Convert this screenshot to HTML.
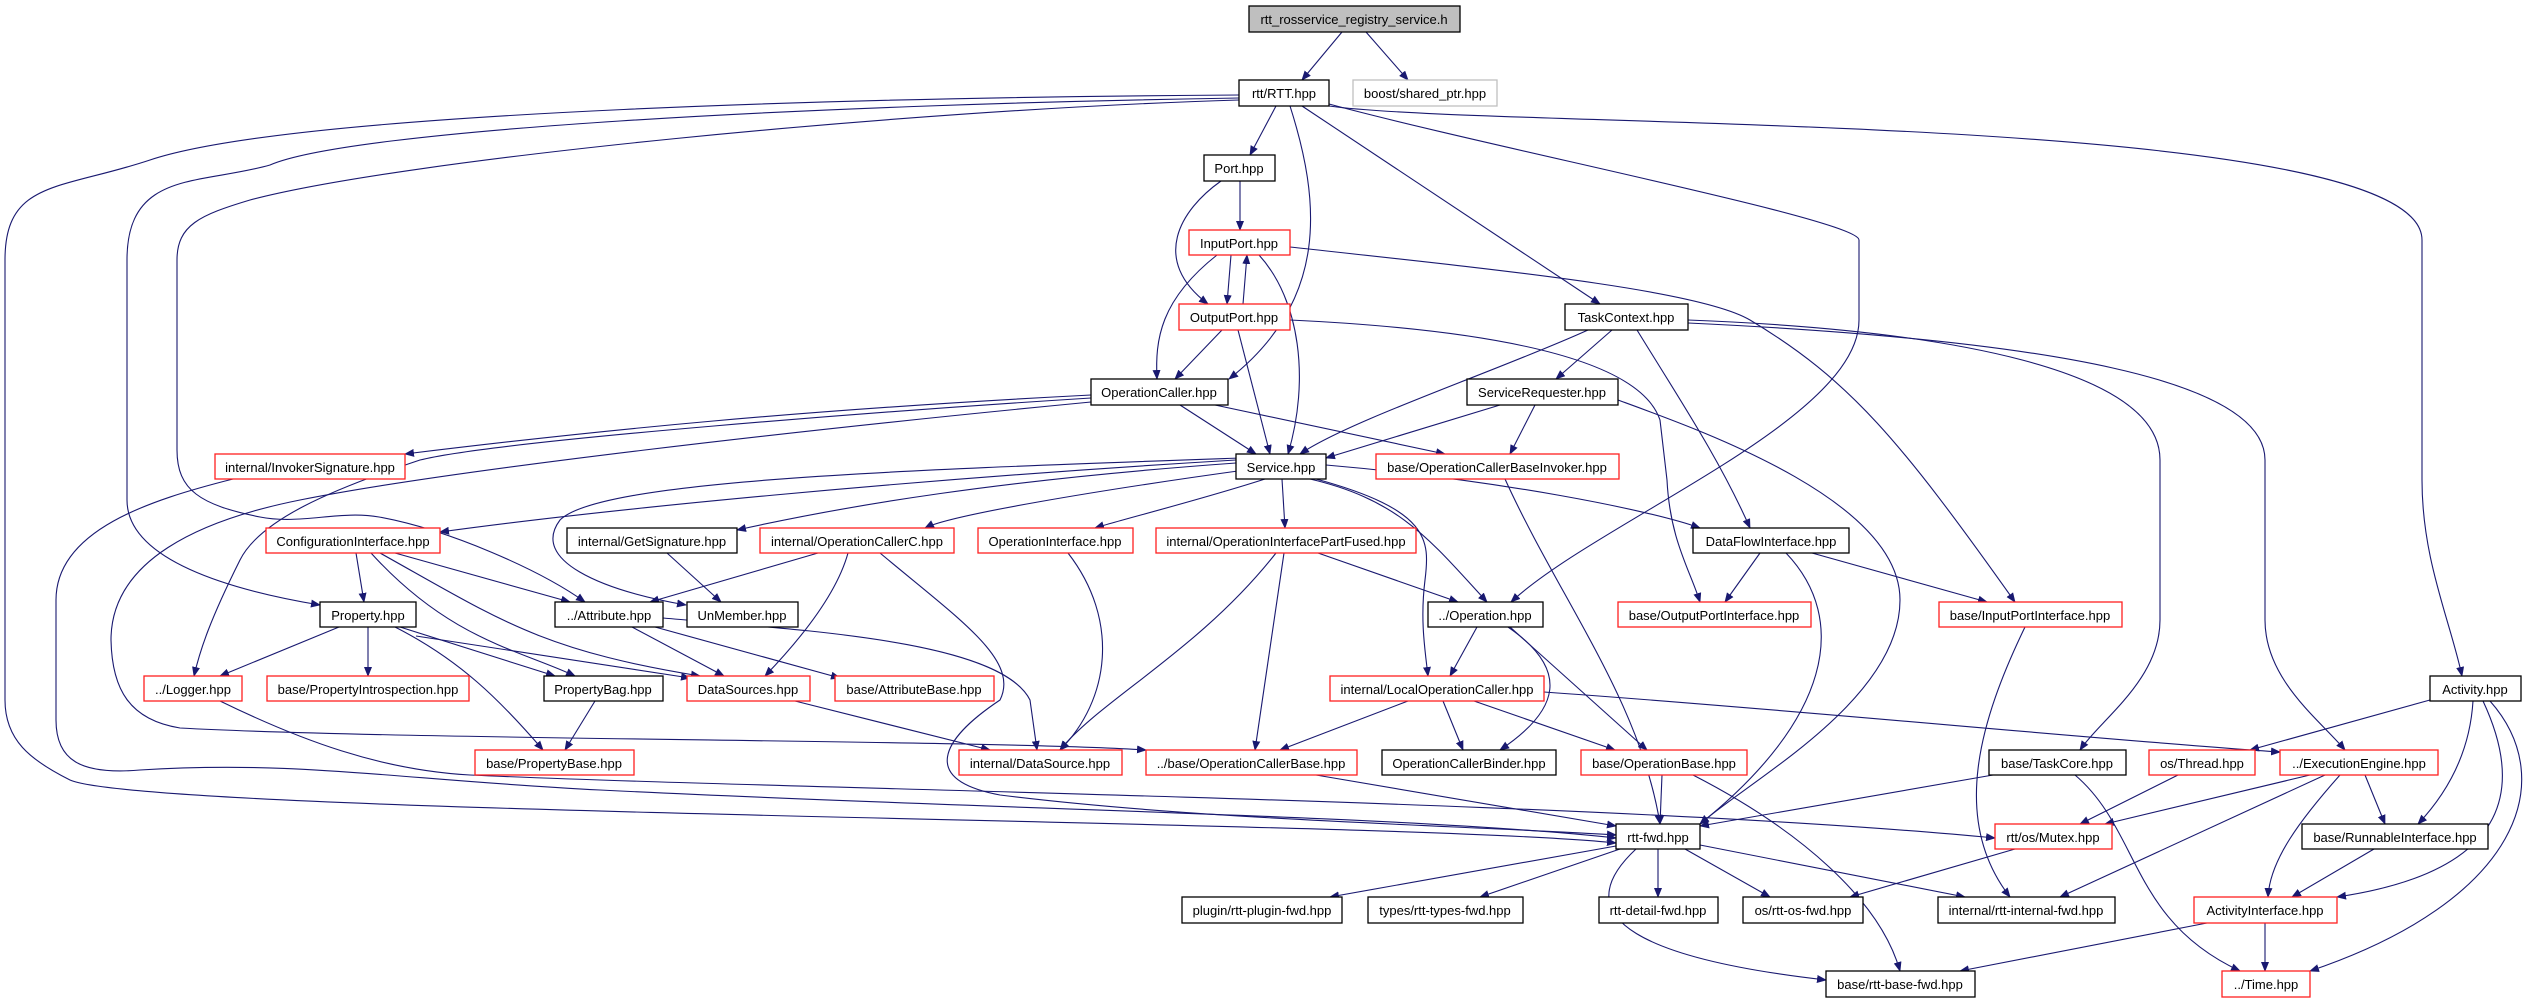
<!DOCTYPE html>
<html><head><meta charset="utf-8"><style>
html,body{margin:0;padding:0;background:#fff;}
svg{display:block;}
text{font-family:"Liberation Sans",Arial,sans-serif;font-size:13px;text-anchor:middle;fill:#000;}
.n{fill:#fff;stroke:#000;stroke-width:1.3;}
.r{fill:#fff;stroke:#ff2020;stroke-width:1.3;}
.e{fill:none;stroke:#191970;stroke-width:1.1;}
</style></head><body>
<svg width="2536" height="1008" viewBox="0 0 2536 1008" xmlns="http://www.w3.org/2000/svg">
<defs><marker id="a" markerWidth="10" markerHeight="8" refX="9" refY="4" orient="auto" markerUnits="userSpaceOnUse"><path d="M0,0 L10,4 L0,8 z" fill="#191970"/></marker></defs>
<g class="e" marker-end="url(#a)">
<path d="M1342,32 L1302,80"/>
<path d="M1366,32 L1408,80"/>
<path d="M1276,106 L1250,155"/>
<path d="M1290,106 C1320,200 1330,300 1229,379"/>
<path d="M1302,106 L1600,304"/>
<path d="M1329,104 C1500,150 1859,220 1859,240 L1859,320 C1859,420 1600,520 1511,602"/>
<path d="M1329,106 C1500,130 2422,110 2422,240 L2422,480 C2422,560 2450,620 2462,676"/>
<path d="M1239,95 C900,97 300,110 150,160 C60,190 5,180 5,260 L5,700 C5,740 30,760 70,780 C150,815 1400,820 1616,843"/>
<path d="M1239,98 C800,105 350,130 270,165 C200,185 127,170 127,260 L127,500 C127,560 230,590 320,605"/>
<path d="M1239,100 C900,110 400,160 250,200 C200,215 177,225 177,260 L177,450 C177,490 200,505 260,517 C300,525 340,510 379,517 C450,530 540,570 585,602"/>
<path d="M1240,181 L1240,230"/>
<path d="M1221,181 C1180,210 1150,260 1208,304"/>
<path d="M1231,255 L1227,304"/>
<path d="M1243,304 L1247,255"/>
<path d="M1217,255 C1160,300 1155,340 1157,379"/>
<path d="M1259,255 C1300,300 1310,380 1288,454"/>
<path d="M1290,247 C1500,270 1700,290 1750,320 C1850,380 1900,440 2015,602"/>
<path d="M1222,330 L1175,379"/>
<path d="M1238,330 L1270,454"/>
<path d="M1290,320 C1500,330 1640,360 1660,420 L1667,480 C1670,540 1690,570 1700,602"/>
<path d="M1588,330 C1500,370 1350,420 1300,454"/>
<path d="M1612,330 L1556,379"/>
<path d="M1637,330 C1680,400 1720,460 1750,528"/>
<path d="M1688,320 C1950,330 2160,370 2160,460 L2160,620 C2160,680 2100,720 2080,750"/>
<path d="M1688,323 C2050,340 2265,380 2265,460 L2265,620 C2265,680 2320,720 2345,750"/>
<path d="M1180,405 L1256,454"/>
<path d="M1215,405 L1445,454"/>
<path d="M1091,395 C800,410 600,430 405,454"/>
<path d="M1091,398 C900,410 500,440 420,460 C330,490 260,520 240,560 C210,620 200,650 194,676"/>
<path d="M1091,402 C800,430 450,470 300,500 C200,520 111,560 111,640 C112,690 130,720 180,728 C400,740 1000,740 1146,750"/>
<path d="M233,479 C150,500 56,530 56,600 L56,720 C56,760 80,775 140,770 C300,760 400,780 600,790 C1000,810 1400,815 1616,838"/>
<path d="M1236,460 C900,480 600,510 440,532"/>
<path d="M1236,463 C1000,480 850,505 737,530"/>
<path d="M1240,458 C900,470 600,480 560,520 C530,560 600,590 686,605"/>
<path d="M1245,470 C1100,490 950,515 925,528"/>
<path d="M1265,479 C1200,500 1120,520 1095,528"/>
<path d="M1282,479 L1285,528"/>
<path d="M1310,479 C1400,500 1430,540 1487,602"/>
<path d="M1316,479 C1430,510 1430,540 1425,580 C1420,620 1425,650 1428,676"/>
<path d="M1326,465 C1500,480 1650,510 1700,528"/>
<path d="M663,618 C800,630 1000,640 1030,700 L1037,750"/>
<path d="M356,553 L364,602"/>
<path d="M395,553 L570,602"/>
<path d="M371,553 C450,640 520,650 575,676"/>
<path d="M380,553 C500,620 540,650 700,676"/>
<path d="M667,553 L721,602"/>
<path d="M818,553 L650,602"/>
<path d="M848,553 C835,600 790,650 765,676"/>
<path d="M880,553 C960,620 1020,660 1000,700 C940,740 920,780 1000,795 C1200,820 1450,825 1616,835"/>
<path d="M1068,553 C1120,620 1110,700 1060,750"/>
<path d="M1276,553 C1200,650 1100,700 1060,750"/>
<path d="M1284,553 L1255,750"/>
<path d="M1318,553 L1458,602"/>
<path d="M1760,553 L1725,602"/>
<path d="M1812,553 L1987,602"/>
<path d="M1786,553 C1850,620 1830,720 1700,824"/>
<path d="M1500,405 L1326,458"/>
<path d="M1535,405 L1510,454"/>
<path d="M1618,400 C1700,430 1900,500 1900,600 C1900,700 1750,780 1700,824"/>
<path d="M1505,479 C1560,600 1640,700 1660,824"/>
<path d="M339,627 L220,676"/>
<path d="M368,627 L368,676"/>
<path d="M400,627 L555,676"/>
<path d="M416,636 L690,678"/>
<path d="M395,627 C460,660 500,700 543,750"/>
<path d="M632,627 L724,676"/>
<path d="M655,627 L840,678"/>
<path d="M595,701 L565,750"/>
<path d="M795,701 L990,750"/>
<path d="M1477,627 L1450,676"/>
<path d="M1508,627 C1570,670 1560,710 1500,750"/>
<path d="M1510,627 L1647,750"/>
<path d="M1408,701 L1280,750"/>
<path d="M1443,701 L1463,750"/>
<path d="M1474,701 L1615,750"/>
<path d="M1544,692 C1800,710 2100,740 2280,752"/>
<path d="M1316,775 L1616,826"/>
<path d="M1662,775 L1660,824"/>
<path d="M1693,775 C1800,830 1880,900 1900,971"/>
<path d="M2025,627 C1980,720 1950,820 2010,897"/>
<path d="M1993,775 L1700,826"/>
<path d="M2075,775 C2140,830 2130,920 2240,971"/>
<path d="M2178,775 L2080,824"/>
<path d="M2310,775 L2105,824"/>
<path d="M2325,775 L2060,897"/>
<path d="M2340,775 C2300,820 2270,860 2268,897"/>
<path d="M2365,775 L2385,824"/>
<path d="M2430,700 L2250,750"/>
<path d="M2473,701 C2470,750 2450,790 2418,824"/>
<path d="M2483,701 C2520,780 2520,870 2337,897"/>
<path d="M2490,701 C2560,780 2520,900 2310,971"/>
<path d="M2374,849 L2292,897"/>
<path d="M2207,923 L1960,971"/>
<path d="M2265,923 L2265,971"/>
<path d="M1616,846 L1330,897"/>
<path d="M1620,849 L1480,897"/>
<path d="M1658,849 L1658,897"/>
<path d="M1685,849 L1770,897"/>
<path d="M1700,845 L1965,897"/>
<path d="M1636,849 C1560,920 1650,960 1826,980"/>
<path d="M2015,849 L1850,897"/>
<path d="M220,701 C300,740 380,770 470,775 C800,790 1600,800 1995,838"/>
</g>
<g>
<rect x="1249" y="6" width="211" height="26" fill="#bfbfbf" stroke="#000" stroke-width="1.3"/><text x="1354" y="24">rtt_rosservice_registry_service.h</text>
<rect class="n" x="1239" y="80" width="90" height="26"/><text x="1284" y="98">rtt/RTT.hpp</text>
<rect x="1353" y="80" width="144" height="26" fill="#fff" stroke="#bfbfbf" stroke-width="1.3"/><text x="1425" y="98">boost/shared_ptr.hpp</text>
<rect class="n" x="1204" y="155" width="71" height="26"/><text x="1239" y="173">Port.hpp</text>
<rect class="r" x="1189" y="230" width="101" height="25"/><text x="1239" y="248">InputPort.hpp</text>
<rect class="r" x="1179" y="304" width="111" height="26"/><text x="1234" y="322">OutputPort.hpp</text>
<rect class="n" x="1565" y="304" width="123" height="26"/><text x="1626" y="322">TaskContext.hpp</text>
<rect class="n" x="1091" y="379" width="137" height="26"/><text x="1159" y="397">OperationCaller.hpp</text>
<rect class="n" x="1467" y="379" width="151" height="26"/><text x="1542" y="397">ServiceRequester.hpp</text>
<rect class="n" x="1236" y="454" width="90" height="25"/><text x="1281" y="472">Service.hpp</text>
<rect class="r" x="1376" y="454" width="243" height="25"/><text x="1497" y="472">base/OperationCallerBaseInvoker.hpp</text>
<rect class="r" x="215" y="454" width="190" height="25"/><text x="310" y="472">internal/InvokerSignature.hpp</text>
<rect class="r" x="266" y="528" width="174" height="25"/><text x="353" y="546">ConfigurationInterface.hpp</text>
<rect class="n" x="567" y="528" width="170" height="25"/><text x="652" y="546">internal/GetSignature.hpp</text>
<rect class="r" x="760" y="528" width="194" height="25"/><text x="857" y="546">internal/OperationCallerC.hpp</text>
<rect class="r" x="978" y="528" width="155" height="25"/><text x="1055" y="546">OperationInterface.hpp</text>
<rect class="r" x="1156" y="528" width="260" height="25"/><text x="1286" y="546">internal/OperationInterfacePartFused.hpp</text>
<rect class="n" x="1693" y="528" width="156" height="25"/><text x="1771" y="546">DataFlowInterface.hpp</text>
<rect class="n" x="320" y="602" width="96" height="25"/><text x="368" y="620">Property.hpp</text>
<rect class="n" x="555" y="602" width="108" height="25"/><text x="609" y="620">../Attribute.hpp</text>
<rect class="n" x="687" y="602" width="111" height="25"/><text x="742" y="620">UnMember.hpp</text>
<rect class="n" x="1428" y="602" width="115" height="25"/><text x="1485" y="620">../Operation.hpp</text>
<rect class="r" x="1618" y="602" width="193" height="25"/><text x="1714" y="620">base/OutputPortInterface.hpp</text>
<rect class="r" x="1939" y="602" width="183" height="25"/><text x="2030" y="620">base/InputPortInterface.hpp</text>
<rect class="r" x="144" y="676" width="98" height="25"/><text x="193" y="694">../Logger.hpp</text>
<rect class="r" x="267" y="676" width="202" height="25"/><text x="368" y="694">base/PropertyIntrospection.hpp</text>
<rect class="n" x="544" y="676" width="119" height="25"/><text x="603" y="694">PropertyBag.hpp</text>
<rect class="r" x="687" y="676" width="123" height="25"/><text x="748" y="694">DataSources.hpp</text>
<rect class="r" x="835" y="676" width="159" height="25"/><text x="914" y="694">base/AttributeBase.hpp</text>
<rect class="r" x="1330" y="676" width="214" height="25"/><text x="1437" y="694">internal/LocalOperationCaller.hpp</text>
<rect class="n" x="2430" y="676" width="91" height="25"/><text x="2475" y="694">Activity.hpp</text>
<rect class="r" x="475" y="750" width="159" height="25"/><text x="554" y="768">base/PropertyBase.hpp</text>
<rect class="r" x="959" y="750" width="163" height="25"/><text x="1040" y="768">internal/DataSource.hpp</text>
<rect class="r" x="1146" y="750" width="211" height="25"/><text x="1251" y="768">../base/OperationCallerBase.hpp</text>
<rect class="n" x="1382" y="750" width="174" height="25"/><text x="1469" y="768">OperationCallerBinder.hpp</text>
<rect class="r" x="1581" y="750" width="166" height="25"/><text x="1664" y="768">base/OperationBase.hpp</text>
<rect class="n" x="1989" y="750" width="137" height="25"/><text x="2057" y="768">base/TaskCore.hpp</text>
<rect class="r" x="2149" y="750" width="106" height="25"/><text x="2202" y="768">os/Thread.hpp</text>
<rect class="r" x="2280" y="750" width="158" height="25"/><text x="2359" y="768">../ExecutionEngine.hpp</text>
<rect class="n" x="1616" y="824" width="84" height="25"/><text x="1658" y="842">rtt-fwd.hpp</text>
<rect class="r" x="1995" y="824" width="117" height="25"/><text x="2053" y="842">rtt/os/Mutex.hpp</text>
<rect class="n" x="2302" y="824" width="186" height="25"/><text x="2395" y="842">base/RunnableInterface.hpp</text>
<rect class="n" x="1182" y="897" width="160" height="26"/><text x="1262" y="915">plugin/rtt-plugin-fwd.hpp</text>
<rect class="n" x="1368" y="897" width="155" height="26"/><text x="1445" y="915">types/rtt-types-fwd.hpp</text>
<rect class="n" x="1599" y="897" width="119" height="26"/><text x="1658" y="915">rtt-detail-fwd.hpp</text>
<rect class="n" x="1743" y="897" width="120" height="26"/><text x="1803" y="915">os/rtt-os-fwd.hpp</text>
<rect class="n" x="1938" y="897" width="177" height="26"/><text x="2026" y="915">internal/rtt-internal-fwd.hpp</text>
<rect class="r" x="2194" y="897" width="143" height="26"/><text x="2265" y="915">ActivityInterface.hpp</text>
<rect class="n" x="1826" y="971" width="149" height="26"/><text x="1900" y="989">base/rtt-base-fwd.hpp</text>
<rect class="r" x="2222" y="971" width="88" height="26"/><text x="2266" y="989">../Time.hpp</text>
</g>
</svg>
</body></html>
